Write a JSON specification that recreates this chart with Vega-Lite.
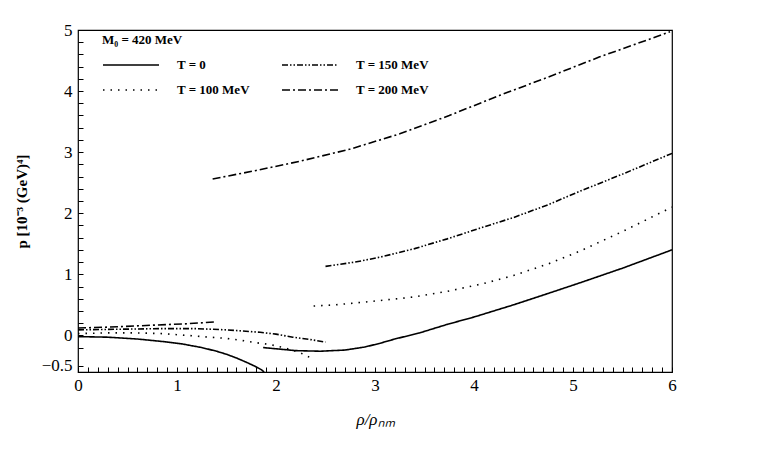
{
  "$schema": "https://vega.github.io/schema/vega-lite/v6.json",
  "width": 594,
  "height": 342,
  "autosize": {"type": "none"},
  "padding": {"left": 78, "top": 30, "right": 89, "bottom": 82},
  "background": "white",
  "config": {
    "view": {"stroke": "black", "strokeWidth": 1.2},
    "font": "Liberation Serif"
  },
  "data": {
    "values": [
      {"T": "T = 0", "b": 1, "rho": 0, "p": -0.02},
      {"T": "T = 0", "b": 1, "rho": 0.3, "p": -0.03},
      {"T": "T = 0", "b": 1, "rho": 0.6, "p": -0.06},
      {"T": "T = 0", "b": 1, "rho": 0.85, "p": -0.1},
      {"T": "T = 0", "b": 1, "rho": 1.05, "p": -0.14},
      {"T": "T = 0", "b": 1, "rho": 1.25, "p": -0.2},
      {"T": "T = 0", "b": 1, "rho": 1.4, "p": -0.26},
      {"T": "T = 0", "b": 1, "rho": 1.5, "p": -0.31},
      {"T": "T = 0", "b": 1, "rho": 1.6, "p": -0.37},
      {"T": "T = 0", "b": 1, "rho": 1.7, "p": -0.44},
      {"T": "T = 0", "b": 1, "rho": 1.78, "p": -0.5},
      {"T": "T = 0", "b": 1, "rho": 1.85, "p": -0.56},
      {"T": "T = 0", "b": 1, "rho": 1.88, "p": -0.6},
      {"T": "T = 0", "b": 2, "rho": 1.87, "p": -0.2},
      {"T": "T = 0", "b": 2, "rho": 2.0, "p": -0.22},
      {"T": "T = 0", "b": 2, "rho": 2.2, "p": -0.25},
      {"T": "T = 0", "b": 2, "rho": 2.45, "p": -0.26},
      {"T": "T = 0", "b": 2, "rho": 2.7, "p": -0.24},
      {"T": "T = 0", "b": 2, "rho": 2.9, "p": -0.19},
      {"T": "T = 0", "b": 2, "rho": 3.05, "p": -0.13},
      {"T": "T = 0", "b": 2, "rho": 3.2, "p": -0.06},
      {"T": "T = 0", "b": 2, "rho": 3.45, "p": 0.04},
      {"T": "T = 0", "b": 2, "rho": 3.73, "p": 0.18},
      {"T": "T = 0", "b": 2, "rho": 4.0, "p": 0.3},
      {"T": "T = 0", "b": 2, "rho": 4.4, "p": 0.5},
      {"T": "T = 0", "b": 2, "rho": 4.7, "p": 0.66},
      {"T": "T = 0", "b": 2, "rho": 5.07, "p": 0.86},
      {"T": "T = 0", "b": 2, "rho": 5.5, "p": 1.1},
      {"T": "T = 0", "b": 2, "rho": 6.0, "p": 1.4},
      {"T": "T = 100 MeV", "b": 1, "rho": 0, "p": 0.03},
      {"T": "T = 100 MeV", "b": 1, "rho": 0.3, "p": 0.04},
      {"T": "T = 100 MeV", "b": 1, "rho": 0.6, "p": 0.04},
      {"T": "T = 100 MeV", "b": 1, "rho": 0.83, "p": 0.03},
      {"T": "T = 100 MeV", "b": 1, "rho": 1.1, "p": 0.0},
      {"T": "T = 100 MeV", "b": 1, "rho": 1.33, "p": -0.03},
      {"T": "T = 100 MeV", "b": 1, "rho": 1.5, "p": -0.05},
      {"T": "T = 100 MeV", "b": 1, "rho": 1.64, "p": -0.08},
      {"T": "T = 100 MeV", "b": 1, "rho": 1.84, "p": -0.13},
      {"T": "T = 100 MeV", "b": 1, "rho": 1.94, "p": -0.15},
      {"T": "T = 100 MeV", "b": 1, "rho": 2.1, "p": -0.21},
      {"T": "T = 100 MeV", "b": 1, "rho": 2.25, "p": -0.29},
      {"T": "T = 100 MeV", "b": 1, "rho": 2.34, "p": -0.36},
      {"T": "T = 100 MeV", "b": 2, "rho": 2.38, "p": 0.48},
      {"T": "T = 100 MeV", "b": 2, "rho": 2.6, "p": 0.5},
      {"T": "T = 100 MeV", "b": 2, "rho": 2.8, "p": 0.53},
      {"T": "T = 100 MeV", "b": 2, "rho": 3.05, "p": 0.57},
      {"T": "T = 100 MeV", "b": 2, "rho": 3.4, "p": 0.63},
      {"T": "T = 100 MeV", "b": 2, "rho": 3.73, "p": 0.72},
      {"T": "T = 100 MeV", "b": 2, "rho": 4.1, "p": 0.85},
      {"T": "T = 100 MeV", "b": 2, "rho": 4.4, "p": 0.98},
      {"T": "T = 100 MeV", "b": 2, "rho": 4.75, "p": 1.17},
      {"T": "T = 100 MeV", "b": 2, "rho": 5.07, "p": 1.38},
      {"T": "T = 100 MeV", "b": 2, "rho": 5.5, "p": 1.7},
      {"T": "T = 100 MeV", "b": 2, "rho": 6.0, "p": 2.1},
      {"T": "T = 150 MeV", "b": 1, "rho": 0, "p": 0.09},
      {"T": "T = 150 MeV", "b": 1, "rho": 0.4, "p": 0.1},
      {"T": "T = 150 MeV", "b": 1, "rho": 0.83, "p": 0.11},
      {"T": "T = 150 MeV", "b": 1, "rho": 1.2, "p": 0.11},
      {"T": "T = 150 MeV", "b": 1, "rho": 1.5, "p": 0.09},
      {"T": "T = 150 MeV", "b": 1, "rho": 1.84, "p": 0.05},
      {"T": "T = 150 MeV", "b": 1, "rho": 2.0, "p": 0.02},
      {"T": "T = 150 MeV", "b": 1, "rho": 2.17, "p": -0.03},
      {"T": "T = 150 MeV", "b": 1, "rho": 2.35, "p": -0.07},
      {"T": "T = 150 MeV", "b": 1, "rho": 2.5, "p": -0.11},
      {"T": "T = 150 MeV", "b": 2, "rho": 2.5, "p": 1.13},
      {"T": "T = 150 MeV", "b": 2, "rho": 2.8, "p": 1.2},
      {"T": "T = 150 MeV", "b": 2, "rho": 3.05, "p": 1.28},
      {"T": "T = 150 MeV", "b": 2, "rho": 3.4, "p": 1.42},
      {"T": "T = 150 MeV", "b": 2, "rho": 3.73, "p": 1.58},
      {"T": "T = 150 MeV", "b": 2, "rho": 4.05, "p": 1.75},
      {"T": "T = 150 MeV", "b": 2, "rho": 4.4, "p": 1.93},
      {"T": "T = 150 MeV", "b": 2, "rho": 4.75, "p": 2.14},
      {"T": "T = 150 MeV", "b": 2, "rho": 5.07, "p": 2.36},
      {"T": "T = 150 MeV", "b": 2, "rho": 5.5, "p": 2.64},
      {"T": "T = 150 MeV", "b": 2, "rho": 6.0, "p": 2.98},
      {"T": "T = 200 MeV", "b": 1, "rho": 0, "p": 0.12},
      {"T": "T = 200 MeV", "b": 1, "rho": 0.4, "p": 0.14},
      {"T": "T = 200 MeV", "b": 1, "rho": 0.8, "p": 0.17},
      {"T": "T = 200 MeV", "b": 1, "rho": 1.1, "p": 0.19},
      {"T": "T = 200 MeV", "b": 1, "rho": 1.38, "p": 0.22},
      {"T": "T = 200 MeV", "b": 2, "rho": 1.36, "p": 2.56},
      {"T": "T = 200 MeV", "b": 2, "rho": 1.8, "p": 2.7},
      {"T": "T = 200 MeV", "b": 2, "rho": 2.24, "p": 2.85},
      {"T": "T = 200 MeV", "b": 2, "rho": 2.75, "p": 3.05},
      {"T": "T = 200 MeV", "b": 2, "rho": 3.25, "p": 3.3},
      {"T": "T = 200 MeV", "b": 2, "rho": 3.75, "p": 3.6},
      {"T": "T = 200 MeV", "b": 2, "rho": 4.26, "p": 3.93},
      {"T": "T = 200 MeV", "b": 2, "rho": 4.75, "p": 4.23},
      {"T": "T = 200 MeV", "b": 2, "rho": 5.27, "p": 4.56},
      {"T": "T = 200 MeV", "b": 2, "rho": 5.6, "p": 4.75},
      {"T": "T = 200 MeV", "b": 2, "rho": 5.98, "p": 4.97}
    ]
  },
  "mark": {"type": "line", "color": "black", "strokeWidth": 1.6, "clip": true},
  "encoding": {
    "x": {
      "field": "rho", "type": "quantitative",
      "scale": {"domain": [0, 6], "nice": false, "zero": false},
      "axis": {
        "orient": "bottom",
        "offset": -5,
        "domain": false,
        "title": "ρ/ρₙₘ",
        "titleFont": "Liberation Serif", "titleFontSize": 17, "titleFontStyle": "italic", "titleFontWeight": "normal", "titleColor": "black",
        "titlePadding": 18,
        "values": [0,0.1,0.2,0.3,0.4,0.5,0.6,0.7,0.8,0.9,1,1.1,1.2,1.3,1.4,1.5,1.6,1.7,1.8,1.9,2,2.1,2.2,2.3,2.4,2.5,2.6,2.7,2.8,2.9,3,3.1,3.2,3.3,3.4,3.5,3.6,3.7,3.8,3.9,4,4.1,4.2,4.3,4.4,4.5,4.6,4.7,4.8,4.9,5,5.1,5.2,5.3,5.4,5.5,5.6,5.7,5.8,5.9,6],
        "labelExpr": "datum.value % 1 === 0 ? format(datum.value, 'd') : ''",
        "labelFont": "Liberation Serif", "labelFontSize": 17, "labelColor": "black",
        "labelPadding": 5,
        "ticks": true, "tickSize": 5, "tickColor": "black", "tickWidth": 1, "tickOpacity": 1,
        "grid": false, "labelFlush": false, "labelOverlap": false
      }
    },
    "y": {
      "field": "p", "type": "quantitative",
      "scale": {"domain": [-0.6, 5], "nice": false, "zero": false},
      "axis": {
        "orient": "left",
        "offset": -5,
        "domain": false,
        "title": "p [10⁻³ (GeV)⁴]",
        "titleFont": "Liberation Serif", "titleFontSize": 15, "titleFontWeight": "bold", "titleColor": "black",
        "titlePadding": 12,
        "values": [-0.5,-0.2,0,0.2,0.4,0.6,0.8,1,1.2,1.4,1.6,1.8,2,2.2,2.4,2.6,2.8,3,3.2,3.4,3.6,3.8,4,4.2,4.4,4.6,4.8,5],
        "labelExpr": "datum.value === -0.5 ? '−0.5' : (datum.value % 1 === 0 ? format(datum.value, 'd') : '')",
        "labelFont": "Liberation Serif", "labelFontSize": 17, "labelColor": "black",
        "labelPadding": 6,
        "ticks": true, "tickSize": 5, "tickColor": "black", "tickWidth": 1, "tickOpacity": 1,
        "grid": false, "labelFlush": false, "labelOverlap": false
      }
    },
    "detail": {"field": "b"},
    "strokeDash": {
      "field": "T", "type": "nominal",
      "scale": {
        "domain": ["T = 0", "T = 100 MeV", "T = 150 MeV", "T = 200 MeV"],
        "range": [[1, 0], [1.5, 6], [6, 2, 1.5, 2, 1.5, 2], [8, 3, 2, 3]]
      },
      "legend": {
        "orient": "none", "legendX": 24, "legendY": 4,
        "title": "M₀ = 420 MeV",
        "titleFont": "Liberation Serif", "titleFontSize": 13, "titleFontWeight": "bold", "titleColor": "black",
        "titlePadding": 10,
        "columns": 2,
        "symbolType": "M-1,0L7,0", "symbolSize": 196,
        "symbolStrokeWidth": 1.5, "symbolStrokeColor": "black",
        "labelFont": "Liberation Serif", "labelFontSize": 13, "labelFontWeight": "bold", "labelColor": "black",
        "labelOffset": 59, "rowPadding": 10, "columnPadding": 29
      }
    }
  }
}
